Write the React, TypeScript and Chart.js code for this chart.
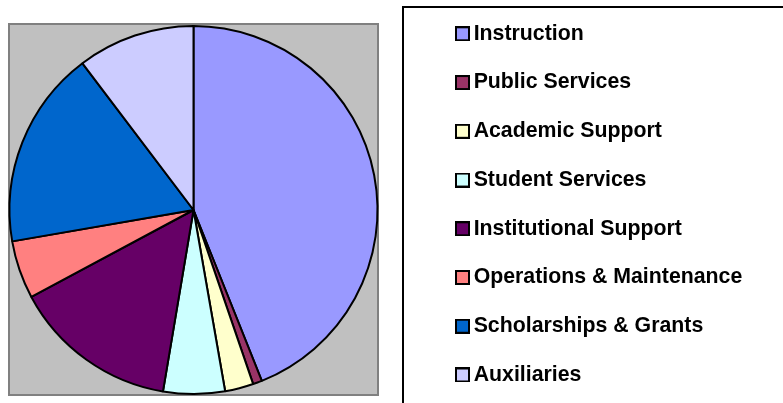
import React, { useEffect, useRef } from 'react';
import { Chart, registerables } from 'chart.js';

Chart.register(...registerables);

// ---- data ----
const categories = [
  'Instruction',
  'Public Services',
  'Academic Support',
  'Student Services',
  'Institutional Support',
  'Operations & Maintenance',
  'Scholarships & Grants',
  'Auxiliaries',
];
const shares = [43.9, 0.8, 2.5, 5.4, 14.5, 5.1, 17.4, 10.3];
const sliceColors = ['#9999FF', '#993366', '#FFFFCC', '#CCFFFF', '#660066', '#FF8080', '#0066CC', '#CCCCFF'];

// ---- layout constants ----
const CANVAS_W = 850;
const CANVAS_H = 440;
const SHIFT_X = 50;
const SHIFT_Y = 10;
const PIE_RADIUS = 184;
const LEGEND_FONT = 21.3;
const LEGEND_PAD = 27.44;
const LEGEND_LEFT = 484.56; // canvas x of the legend box
const FONT_FAMILY = '"Liberation Sans", Arial, sans-serif';

function makeSwatch(color: string): HTMLCanvasElement {
  const c = document.createElement('canvas');
  c.width = 15;
  c.height = 15;
  const g = c.getContext('2d')!;
  g.fillStyle = color;
  g.fillRect(0, 0, 15, 15);
  g.strokeStyle = '#000';
  g.lineWidth = 2;
  g.strokeRect(1, 1, 13, 13);
  return c;
}

const plotBackground = {
  id: 'plotBackground',
  beforeDatasetsDraw(chart: any) {
    const arc = chart.getDatasetMeta(0).data[0];
    if (!arc) return;
    const { x, y, outerRadius: r } = arc;
    const L = Math.floor(x - r - 1.5);
    const R = Math.ceil(x + r + 1.5);
    const T = Math.floor(y - r - 2);
    const B = Math.ceil(y + r + 2);
    const ctx = chart.ctx;
    ctx.save();
    ctx.fillStyle = '#C0C0C0';
    ctx.fillRect(L, T, R - L, B - T);
    ctx.strokeStyle = '#808080';
    ctx.lineWidth = 2;
    ctx.strokeRect(L + 1, T + 1, R - L - 2, B - T - 2);
    ctx.restore();
  },
};

const legendFrame = {
  id: 'legendFrame',
  beforeDraw(chart: any) {
    const lg = chart.legend;
    if (!lg) return;
    const ctx = chart.ctx;
    const left = Math.round(lg.left - 31.56);
    const top = Math.round(lg.top + 11.29);
    ctx.save();
    ctx.fillStyle = '#FFFFFF';
    ctx.fillRect(left, top, chart.width, chart.height);
    ctx.strokeStyle = '#000000';
    ctx.lineWidth = 2;
    ctx.strokeRect(left, top, chart.width, chart.height);
    ctx.restore();
  },
};

export default function App() {
  const ref = useRef<HTMLCanvasElement | null>(null);

  useEffect(() => {
    if (!ref.current) return;
    const swatches = sliceColors.map(makeSwatch);

    // natural legend width, so the legend box starts at LEGEND_LEFT
    const mctx = document.createElement('canvas').getContext('2d')!;
    mctx.font = `bold ${LEGEND_FONT}px ${FONT_FAMILY}`;
    const maxText = Math.max(...categories.map((t) => mctx.measureText(t).width));
    const legendWidth = LEGEND_PAD + 1 + LEGEND_FONT / 2 + maxText + 10;
    const padRight = CANVAS_W - LEGEND_LEFT - legendWidth;

    const baseGen = (Chart as any).overrides.pie.plugins.legend.labels.generateLabels;
    const chart = new Chart(ref.current, {
      type: 'pie',
      data: {
        labels: categories,
        datasets: [
          {
            data: shares,
            backgroundColor: sliceColors,
            borderColor: '#000000',
            borderWidth: 2,
            hoverBorderWidth: 2,
            radius: PIE_RADIUS,
          } as any,
        ],
      },
      options: {
        responsive: false,
        animation: false,
        events: [],
        layout: {
          padding: { left: 2.44, top: 5.71, right: padRight, bottom: 5.71 },
        },
        plugins: {
          tooltip: { enabled: false },
          legend: {
            display: true,
            position: 'right',
            align: 'start',
            labels: {
              usePointStyle: true,
              pointStyleWidth: 1,
              padding: LEGEND_PAD,
              color: '#000000',
              font: { family: FONT_FAMILY, size: LEGEND_FONT, weight: 'bold' },
              generateLabels(c: any) {
                return baseGen(c).map((item: any, i: number) => ({ ...item, pointStyle: swatches[i] }));
              },
            },
          },
        },
      } as any,
      plugins: [legendFrame, plotBackground],
    });
    return () => chart.destroy();
  }, []);

  return (
    <div
      style={{
        position: 'fixed',
        left: 0,
        top: 0,
        width: 783,
        height: 403,
        overflow: 'hidden',
        background: '#FFFFFF',
      }}
    >
      <canvas
        ref={ref}
        width={CANVAS_W}
        height={CANVAS_H}
        style={{ position: 'absolute', left: -SHIFT_X, top: -SHIFT_Y, width: CANVAS_W, height: CANVAS_H }}
      />
    </div>
  );
}
